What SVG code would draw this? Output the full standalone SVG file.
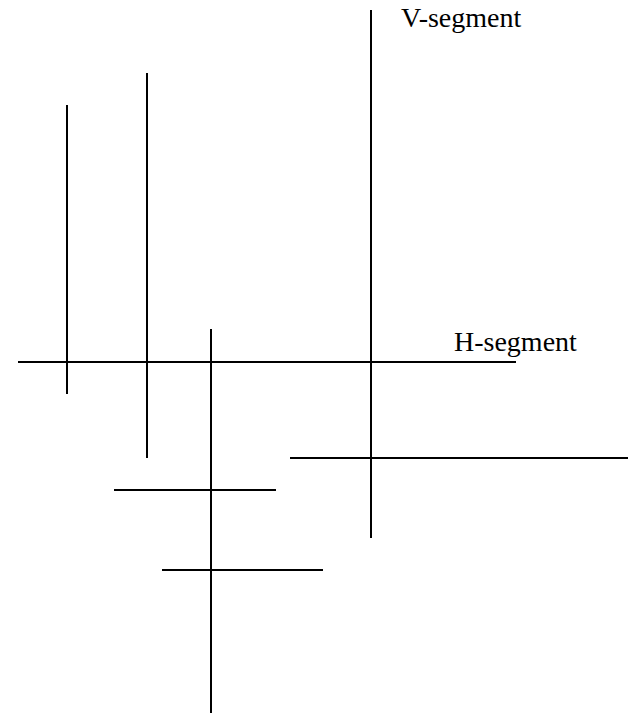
<svg xmlns="http://www.w3.org/2000/svg" width="637" height="714" viewBox="0 0 637 714">
<style>
.seg{stroke:#000;stroke-width:2;fill:none}
.lbl{font-family:"Liberation Serif","Times New Roman",serif;font-size:28px;fill:#000}
</style>
<rect width="637" height="714" fill="#fff"/>
<g id="connectors">
<line class="seg" x1="371" y1="10" x2="371" y2="538"/>
<line class="seg" x1="67" y1="105" x2="67" y2="394"/>
<line class="seg" x1="147" y1="73" x2="147" y2="458"/>
<line class="seg" x1="211" y1="329" x2="211" y2="713"/>
<line class="seg" x1="18" y1="362" x2="516" y2="362"/>
<line class="seg" x1="290" y1="458" x2="628" y2="458"/>
<line class="seg" x1="114" y1="490" x2="276" y2="490"/>
<line class="seg" x1="162" y1="570" x2="323" y2="570"/>
</g>
<g id="label-v"><text class="lbl" x="401" y="27">V-segment</text></g>
<g id="label-h"><text class="lbl" x="454" y="351">H-segment</text></g>
</svg>
